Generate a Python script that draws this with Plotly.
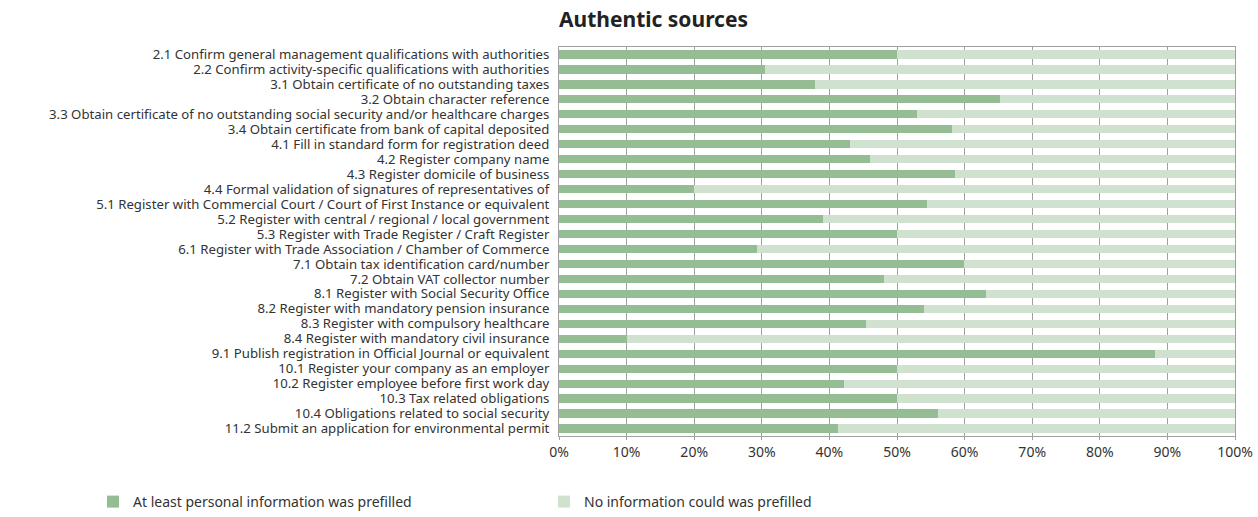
import plotly.graph_objects as go

# Procedure steps, top to bottom as shown
steps = [
    '2.1 Confirm general management qualifications with authorities',
    '2.2 Confirm activity-specific qualifications with authorities',
    '3.1 Obtain certificate of no outstanding taxes',
    '3.2 Obtain character reference',
    '3.3 Obtain certificate of no outstanding social security and/or healthcare charges',
    '3.4 Obtain certificate from bank of capital deposited',
    '4.1 Fill in standard form for registration deed',
    '4.2 Register company name',
    '4.3 Register domicile of business',
    '4.4 Formal validation of signatures of representatives of',
    '5.1 Register with Commercial Court / Court of First Instance or equivalent',
    '5.2 Register with central / regional / local government',
    '5.3 Register with Trade Register / Craft Register',
    '6.1 Register with Trade Association / Chamber of Commerce',
    '7.1 Obtain tax identification card/number',
    '7.2 Obtain VAT collector number',
    '8.1 Register with Social Security Office',
    '8.2 Register with mandatory pension insurance',
    '8.3 Register with compulsory healthcare',
    '8.4 Register with mandatory civil insurance',
    '9.1 Publish registration in Official Journal or equivalent',
    '10.1 Register your company as an employer',
    '10.2 Register employee before first work day',
    '10.3 Tax related obligations',
    '10.4 Obligations related to social security',
    '11.2 Submit an application for environmental permit',
]

# Share (%) of cases where at least personal information was prefilled
prefilled_pct = [
    50.0, 30.4, 37.9, 65.2, 52.9, 58.1, 43.1, 46.0, 58.6, 20.0,
    54.5, 39.1, 50.0, 29.3, 59.9, 48.1, 63.2, 54.0, 45.4, 10.0,
    88.1, 50.0, 42.2, 50.0, 56.1, 41.3,
]
not_prefilled_pct = [100 - v for v in prefilled_pct]

x_ticks = [0, 10, 20, 30, 40, 50, 60, 70, 80, 90, 100]
x_tick_labels = ['0%', '10%', '20%', '30%', '40%', '50%', '60%', '70%', '80%', '90%', '100%']

dark_green = '#95bd93'
light_green = '#d0e2cf'
grid_gray = '#a0a0a0'
font_family = 'Noto Sans, sans-serif'

fig_w, fig_h = 1258, 517
m_l, m_r, m_t, m_b = 559, 23, 47, 81
plot_w = fig_w - m_l - m_r
plot_h = fig_h - m_t - m_b

fig = go.Figure()

fig.add_trace(go.Bar(
    y=steps,
    x=prefilled_pct,
    orientation='h',
    name='At least personal information was prefilled',
    marker=dict(color=dark_green, line=dict(width=0)),
))

fig.add_trace(go.Bar(
    y=steps,
    x=not_prefilled_pct,
    orientation='h',
    name='No information could was prefilled',
    marker=dict(color=light_green, line=dict(width=0)),
))

fig.update_layout(
    barmode='stack',
    bargap=0.45,
    width=fig_w,
    height=fig_h,
    paper_bgcolor='white',
    plot_bgcolor='white',
    margin=dict(l=m_l, r=m_r, t=m_t, b=m_b, autoexpand=False),
    font=dict(family=font_family, color='#333333'),
    title=dict(
        text='<b>Authentic sources</b>',
        x=m_l / fig_w,
        xanchor='left',
        y=1 - 20 / fig_h,
        yanchor='middle',
        font=dict(size=21, color='#222222'),
    ),
    # paper coords below/left of the plot so both entries stay on one row
    legend=dict(
        orientation='h',
        x=(93 - m_l) / plot_w,
        xanchor='left',
        y=-50 / plot_h,
        yanchor='top',
        entrywidth=406,
        entrywidthmode='pixels',
        font=dict(size=14, color='#333333'),
        traceorder='normal',
    ),
    showlegend=True,
)

fig.update_xaxes(
    range=[0, 100],
    tickvals=x_ticks,
    ticktext=x_tick_labels,
    showgrid=True,
    gridcolor=grid_gray,
    gridwidth=1,
    showline=True,
    linecolor=grid_gray,
    mirror=True,
    ticks='outside',
    ticklen=3,
    tickcolor=grid_gray,
    ticklabelstandoff=0,
    tickfont=dict(size=14, color='#333333'),
    zeroline=False,
    automargin=False,
    fixedrange=True,
)

fig.update_yaxes(
    autorange='reversed',
    tickmode='array',
    tickvals=steps,
    ticktext=steps,
    showline=True,
    linecolor=grid_gray,
    mirror=True,
    ticks='',
    ticklabelstandoff=6,
    tickfont=dict(size=13.2, color='#333333'),
    automargin=False,
    fixedrange=True,
)

# drop the default 8px page margin so the figure fills the window exactly
fig.write_html(
    'out.html',
    config={'displayModeBar': False},
    post_script="document.body.style.margin='0';document.body.style.overflow='hidden';",
)
